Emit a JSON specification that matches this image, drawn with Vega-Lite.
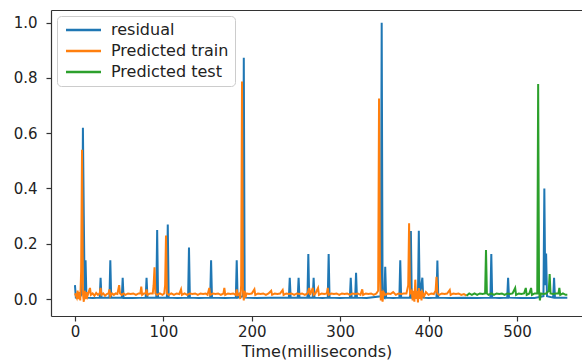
{
  "$schema": "https://vega.github.io/schema/vega-lite/v6.json",
  "width": 531,
  "height": 306,
  "autosize": {"type": "none"},
  "padding": {"left": 51, "top": 10, "right": 0, "bottom": 47},
  "background": "white",
  "config": {
    "view": {"stroke": null},
    "font": "DejaVu Sans",
    "axis": {
      "grid": false,
      "domainColor": "#333",
      "domainWidth": 1.2,
      "tickColor": "#333",
      "tickWidth": 1.2,
      "tickSize": 5,
      "labelColor": "#222",
      "labelFont": "DejaVu Sans",
      "labelFontSize": 15,
      "titleFont": "DejaVu Sans",
      "titleFontSize": 16,
      "titleFontWeight": "normal",
      "titleColor": "#222"
    }
  },
  "datasets": {
    "residual": [
      {"t":0,"v":0.05},{"t":1,"v":0.005},{"t":5,"v":0.004},{"t":8,"v":0.02},{"t":9,"v":0.62},{"t":10,"v":0.3},{"t":11,"v":0.01},{"t":12,"v":0.14},{"t":13,"v":0.005},{"t":20,"v":0.004},
      {"t":28,"v":0.005},{"t":29,"v":0.077},{"t":30,"v":0.005},{"t":39,"v":0.005},{"t":40,"v":0.14},{"t":41,"v":0.005},{"t":53,"v":0.005},{"t":54,"v":0.077},{"t":55,"v":0.004},{"t":65,"v":0.004},
      {"t":80,"v":0.005},{"t":81,"v":0.077},{"t":82,"v":0.005},{"t":92,"v":0.005},{"t":93,"v":0.25},{"t":94,"v":0.005},{"t":104,"v":0.005},{"t":105,"v":0.27},{"t":106,"v":0.005},{"t":116,"v":0.004},
      {"t":128,"v":0.005},{"t":129,"v":0.186},{"t":130,"v":0.005},{"t":140,"v":0.004},{"t":153,"v":0.005},{"t":154,"v":0.14},{"t":155,"v":0.005},{"t":170,"v":0.004},{"t":182,"v":0.005},{"t":183,"v":0.14},
      {"t":184,"v":0.005},{"t":190,"v":0.01},{"t":191,"v":0.873},{"t":192,"v":0.005},{"t":205,"v":0.004},{"t":220,"v":0.005},{"t":242,"v":0.005},{"t":243,"v":0.077},{"t":244,"v":0.005},{"t":252,"v":0.005},
      {"t":253,"v":0.077},{"t":254,"v":0.005},{"t":263,"v":0.005},{"t":264,"v":0.163},{"t":265,"v":0.005},{"t":269,"v":0.005},{"t":270,"v":0.077},{"t":271,"v":0.005},{"t":280,"v":0.004},{"t":286,"v":0.005},
      {"t":287,"v":0.163},{"t":288,"v":0.005},{"t":300,"v":0.004},{"t":311,"v":0.005},{"t":312,"v":0.077},{"t":313,"v":0.005},{"t":317,"v":0.005},{"t":318,"v":0.095},{"t":319,"v":0.005},{"t":330,"v":0.004},
      {"t":346,"v":0.01},{"t":347,"v":1.0},{"t":348,"v":0.01},{"t":350,"v":0.005},{"t":351,"v":0.117},{"t":352,"v":0.005},{"t":360,"v":0.004},{"t":367,"v":0.005},{"t":368,"v":0.14},{"t":369,"v":0.005},
      {"t":379,"v":0.005},{"t":380,"v":0.246},{"t":381,"v":0.005},{"t":388,"v":0.005},{"t":389,"v":0.247},{"t":390,"v":0.01},{"t":393,"v":0.077},{"t":394,"v":0.005},{"t":400,"v":0.004},{"t":409,"v":0.005},
      {"t":410,"v":0.139},{"t":411,"v":0.005},{"t":425,"v":0.004},{"t":440,"v":0.005},{"t":455,"v":0.004},{"t":470,"v":0.005},{"t":471,"v":0.163},{"t":472,"v":0.005},{"t":480,"v":0.004},{"t":489,"v":0.005},
      {"t":490,"v":0.077},{"t":491,"v":0.005},{"t":505,"v":0.004},{"t":520,"v":0.004},{"t":530,"v":0.01},{"t":531,"v":0.4},{"t":532,"v":0.05},{"t":533,"v":0.165},{"t":534,"v":0.01},{"t":541,"v":0.005},
      {"t":542,"v":0.077},{"t":543,"v":0.005},{"t":550,"v":0.005},{"t":557,"v":0.005}
    ],
    "train": [
      {"t":0,"v":0.02},{"t":2,"v":0.005},{"t":3,"v":0.03},{"t":4,"v":0.0},{"t":5,"v":0.025},{"t":6,"v":-0.005},{"t":7,"v":0.1},{"t":8,"v":0.54},{"t":9,"v":0.02},{"t":10,"v":-0.01},
      {"t":11,"v":0.03},{"t":12,"v":0.0},{"t":13,"v":0.025},{"t":14,"v":0.01},{"t":16,"v":0.03},{"t":17,"v":0.04},{"t":18,"v":0.015},{"t":20,"v":0.02},{"t":22,"v":0.012},{"t":24,"v":0.022},
      {"t":26,"v":0.015},{"t":28,"v":0.02},{"t":29,"v":0.04},{"t":30,"v":0.015},{"t":32,"v":0.02},{"t":34,"v":0.012},{"t":36,"v":0.018},{"t":38,"v":0.02},{"t":39,"v":0.035},{"t":40,"v":0.01},
      {"t":42,"v":0.02},{"t":44,"v":0.015},{"t":46,"v":0.02},{"t":48,"v":0.018},{"t":50,"v":0.05},{"t":51,"v":0.02},{"t":53,"v":0.015},{"t":55,"v":0.02},{"t":57,"v":0.015},{"t":60,"v":0.02},
      {"t":63,"v":0.018},{"t":66,"v":0.02},{"t":69,"v":0.015},{"t":72,"v":0.02},{"t":74,"v":0.02},{"t":75,"v":0.045},{"t":76,"v":0.015},{"t":78,"v":0.02},{"t":80,"v":0.02},{"t":81,"v":0.035},
      {"t":82,"v":0.015},{"t":85,"v":0.02},{"t":88,"v":0.02},{"t":89,"v":0.05},{"t":90,"v":0.115},{"t":91,"v":0.02},{"t":93,"v":0.015},{"t":96,"v":0.02},{"t":99,"v":0.015},{"t":101,"v":0.02},
      {"t":102,"v":0.05},{"t":103,"v":0.23},{"t":104,"v":0.02},{"t":106,"v":0.015},{"t":109,"v":0.02},{"t":112,"v":0.015},{"t":115,"v":0.02},{"t":118,"v":0.018},{"t":120,"v":0.035},{"t":121,"v":0.015},
      {"t":124,"v":0.02},{"t":127,"v":0.015},{"t":130,"v":0.02},{"t":133,"v":0.018},{"t":136,"v":0.02},{"t":139,"v":0.015},{"t":142,"v":0.02},{"t":145,"v":0.018},{"t":148,"v":0.02},{"t":150,"v":0.015},
      {"t":152,"v":0.04},{"t":153,"v":0.015},{"t":156,"v":0.02},{"t":159,"v":0.018},{"t":162,"v":0.02},{"t":165,"v":0.015},{"t":168,"v":0.02},{"t":169,"v":0.04},{"t":170,"v":0.015},{"t":173,"v":0.02},
      {"t":176,"v":0.018},{"t":179,"v":0.02},{"t":182,"v":0.015},{"t":183,"v":0.035},{"t":184,"v":0.015},{"t":186,"v":0.02},{"t":187,"v":0.0},{"t":188,"v":0.05},{"t":189,"v":0.787},{"t":190,"v":0.03},
      {"t":191,"v":-0.005},{"t":192,"v":0.03},{"t":193,"v":0.005},{"t":194,"v":0.02},{"t":197,"v":0.018},{"t":200,"v":0.02},{"t":203,"v":0.035},{"t":204,"v":0.015},{"t":207,"v":0.02},{"t":210,"v":0.018},
      {"t":213,"v":0.02},{"t":216,"v":0.015},{"t":219,"v":0.02},{"t":222,"v":0.03},{"t":223,"v":0.015},{"t":226,"v":0.02},{"t":229,"v":0.018},{"t":232,"v":0.02},{"t":235,"v":0.033},{"t":236,"v":0.015},
      {"t":239,"v":0.02},{"t":242,"v":0.018},{"t":245,"v":0.02},{"t":248,"v":0.015},{"t":251,"v":0.02},{"t":254,"v":0.018},{"t":257,"v":0.02},{"t":260,"v":0.015},{"t":263,"v":0.02},{"t":265,"v":0.04},
      {"t":266,"v":0.015},{"t":269,"v":0.04},{"t":270,"v":0.015},{"t":272,"v":0.02},{"t":275,"v":0.04},{"t":276,"v":0.015},{"t":279,"v":0.02},{"t":282,"v":0.018},{"t":285,"v":0.02},{"t":286,"v":0.04},
      {"t":287,"v":0.015},{"t":290,"v":0.02},{"t":293,"v":0.018},{"t":296,"v":0.02},{"t":299,"v":0.015},{"t":302,"v":0.02},{"t":305,"v":0.018},{"t":308,"v":0.02},{"t":311,"v":0.015},{"t":314,"v":0.02},
      {"t":317,"v":0.018},{"t":320,"v":0.02},{"t":323,"v":0.015},{"t":325,"v":0.035},{"t":326,"v":0.015},{"t":329,"v":0.02},{"t":332,"v":0.018},{"t":335,"v":0.02},{"t":338,"v":0.015},{"t":341,"v":0.02},
      {"t":343,"v":0.03},{"t":344,"v":0.726},{"t":345,"v":0.1},{"t":346,"v":-0.005},{"t":347,"v":0.03},{"t":348,"v":-0.01},{"t":349,"v":0.025},{"t":351,"v":0.015},{"t":354,"v":0.02},{"t":357,"v":0.018},
      {"t":360,"v":0.025},{"t":363,"v":0.015},{"t":366,"v":0.02},{"t":369,"v":0.018},{"t":372,"v":0.02},{"t":375,"v":0.02},{"t":377,"v":0.05},{"t":378,"v":0.274},{"t":379,"v":0.02},{"t":381,"v":0.03},
      {"t":382,"v":-0.005},{"t":383,"v":0.03},{"t":384,"v":-0.01},{"t":385,"v":0.07},{"t":386,"v":0.0},{"t":387,"v":0.03},{"t":388,"v":-0.012},{"t":389,"v":0.04},{"t":390,"v":0.0},{"t":391,"v":0.03},
      {"t":392,"v":-0.005},{"t":393,"v":0.025},{"t":395,"v":0.01},{"t":397,"v":0.025},{"t":400,"v":0.015},{"t":403,"v":0.02},{"t":406,"v":0.018},{"t":408,"v":0.03},{"t":409,"v":0.08},{"t":410,"v":0.02},
      {"t":412,"v":0.015},{"t":415,"v":0.02},{"t":418,"v":0.018},{"t":421,"v":0.02},{"t":424,"v":0.033},{"t":425,"v":0.015},{"t":428,"v":0.02},{"t":431,"v":0.018},{"t":434,"v":0.02},{"t":437,"v":0.015},
      {"t":440,"v":0.018},{"t":443,"v":0.012}
    ],
    "test": [
      {"t":443,"v":0.012},{"t":446,"v":0.02},{"t":449,"v":0.015},{"t":452,"v":0.02},{"t":455,"v":0.015},{"t":458,"v":0.02},{"t":461,"v":0.018},{"t":464,"v":0.02},{"t":465,"v":0.177},{"t":466,"v":0.02},
      {"t":468,"v":0.015},{"t":471,"v":0.02},{"t":474,"v":0.015},{"t":477,"v":0.02},{"t":480,"v":0.018},{"t":483,"v":0.02},{"t":486,"v":0.015},{"t":489,"v":0.02},{"t":492,"v":0.018},{"t":495,"v":0.02},
      {"t":498,"v":0.04},{"t":499,"v":0.015},{"t":502,"v":0.02},{"t":505,"v":0.018},{"t":508,"v":0.02},{"t":510,"v":0.04},{"t":511,"v":0.015},{"t":514,"v":0.02},{"t":516,"v":0.04},{"t":517,"v":0.015},
      {"t":520,"v":0.02},{"t":523,"v":0.02},{"t":524,"v":0.778},{"t":525,"v":0.03},{"t":526,"v":-0.005},{"t":527,"v":0.02},{"t":530,"v":0.018},{"t":533,"v":0.02},{"t":536,"v":0.03},{"t":537,"v":0.09},
      {"t":538,"v":0.02},{"t":541,"v":0.018},{"t":544,"v":0.02},{"t":547,"v":0.02},{"t":548,"v":0.04},{"t":549,"v":0.015},{"t":552,"v":0.02},{"t":555,"v":0.015},{"t":557,"v":0.015}
    ]
  },
  "encoding": {
    "x": {
      "field": "t",
      "type": "quantitative",
      "scale": {"domain": [-27.1, 573.6], "nice": false, "zero": false},
      "axis": {"values": [0, 100, 200, 300, 400, 500], "title": "Time(milliseconds)", "labelPadding": 3, "titlePadding": 4}
    },
    "y": {
      "field": "v",
      "type": "quantitative",
      "scale": {"domain": [-0.0615, 1.046], "nice": false, "zero": false},
      "axis": {"values": [0, 0.2, 0.4, 0.6, 0.8, 1.0], "format": ".1f", "title": null, "labelPadding": 9}
    }
  },
  "layer": [
    {
      "data": {"name": "residual"},
      "mark": {"type": "line", "strokeWidth": 2},
      "encoding": {
        "color": {
          "datum": "residual",
          "type": "nominal",
          "scale": {"domain": ["residual", "Predicted train", "Predicted test"], "range": ["#1f77b4", "#ff7f0e", "#2ca02c"]},
          "legend": {
            "orient": "none",
            "legendX": 6,
            "legendY": 6,
            "title": null,
            "symbolType": "M-1,0H6",
            "symbolSize": 100,
            "symbolStrokeWidth": 2.5,
            "labelOffset": 32,
            "labelFont": "DejaVu Sans",
            "labelFontSize": 16,
            "labelColor": "#222",
            "padding": 6,
            "rowPadding": 5,
            "fillColor": "rgba(255,255,255,0.8)",
            "strokeColor": "#cccccc",
            "cornerRadius": 4
          }
        }
      }
    },
    {
      "data": {"name": "train"},
      "mark": {"type": "line", "strokeWidth": 2},
      "encoding": {"color": {"datum": "Predicted train", "type": "nominal"}, "x": {"field": "t", "type": "quantitative", "axis": null}, "y": {"field": "v", "type": "quantitative", "axis": null}}
    },
    {
      "data": {"name": "test"},
      "mark": {"type": "line", "strokeWidth": 2},
      "encoding": {
        "color": {"datum": "Predicted test", "type": "nominal"},
        "x": {"field": "t", "type": "quantitative", "axis": {"orient": "top", "labels": false, "ticks": false, "title": null, "domain": true}},
        "y": {"field": "v", "type": "quantitative", "axis": null}
      }
    }
  ],
  "resolve": {"axis": {"x": "independent", "y": "independent"}}
}
